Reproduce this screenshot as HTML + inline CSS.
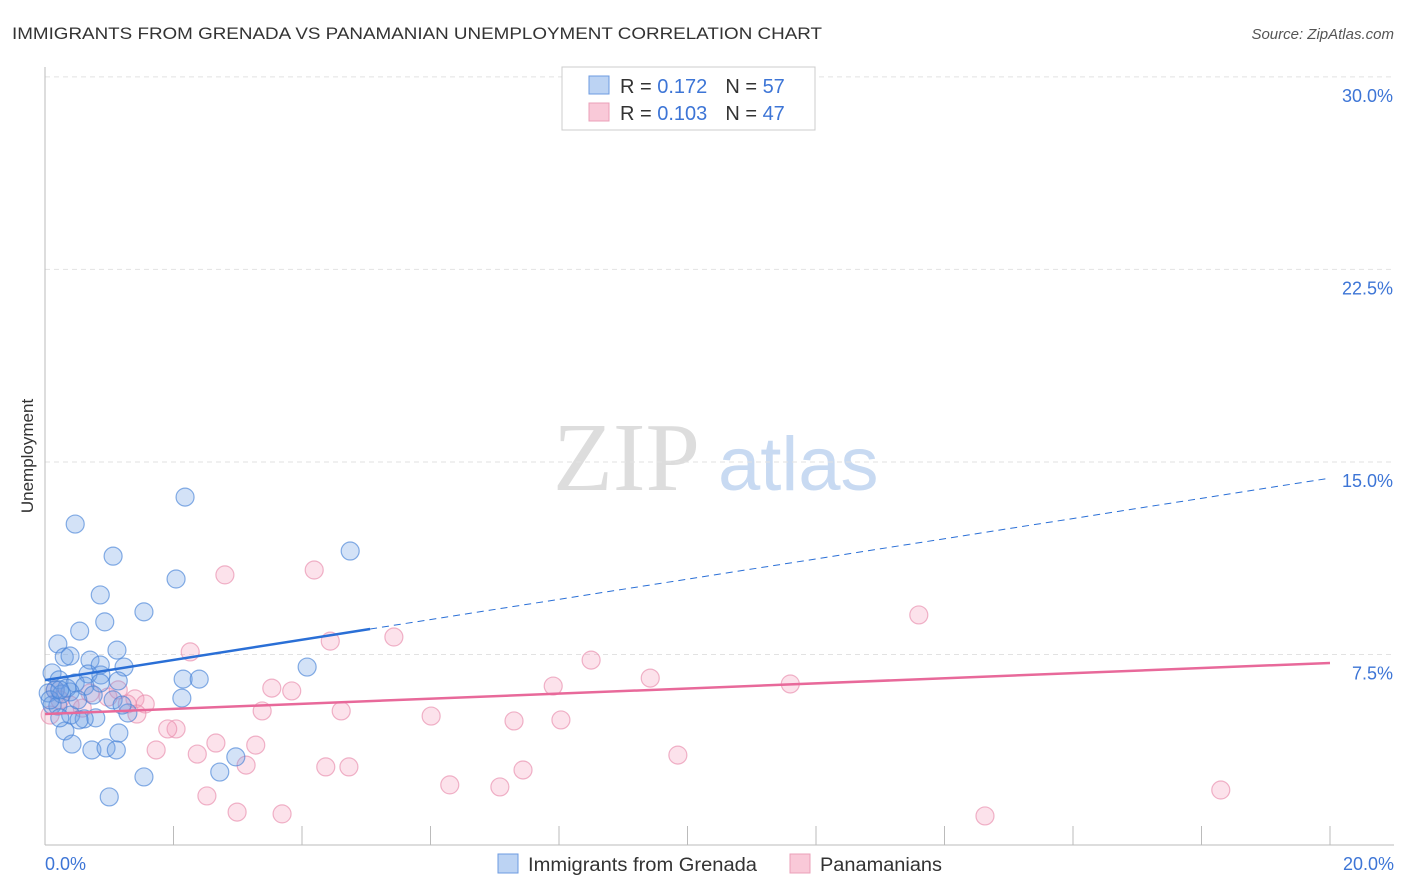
<!DOCTYPE html>
<html><head><meta charset="utf-8"><style>
body{margin:0;background:#fff;font-family:"Liberation Sans",sans-serif;}
svg{display:block}
</style></head><body>
<svg id="c" width="1406" height="892" xmlns="http://www.w3.org/2000/svg">
<text x="12" y="39" font-size="17" fill="#333" textLength="810" lengthAdjust="spacingAndGlyphs">IMMIGRANTS FROM GRENADA VS PANAMANIAN UNEMPLOYMENT CORRELATION CHART</text>
<text x="1394" y="39" font-size="15" fill="#555" font-style="italic" text-anchor="end">Source: ZipAtlas.com</text>
<text x="33" y="456" font-size="17" fill="#333" text-anchor="middle" transform="rotate(-90 33 456)">Unemployment</text>
<g>
<text x="553" y="490" font-size="98" font-family="Liberation Serif,serif" fill="#ddd">ZIP</text>
<text x="718" y="490" font-size="76" fill="#c8daf2">atlas</text>
</g>
<g id="grid"></g><g id="axes"></g><g id="pts"></g><g id="trend"></g>
<g>
<rect x="562" y="67" width="253" height="63" fill="#fff" stroke="#ccc"/>
<rect x="589" y="76" width="20" height="18" fill="#bcd3f3" stroke="#6d9be0"/>
<rect x="589" y="103" width="20" height="18" fill="#f9c9d8" stroke="#eba0b9"/>
<text x="620" y="93" font-size="20" fill="#333">R = <tspan fill="#3d75d6">0.172</tspan><tspan dx="18">N = </tspan><tspan fill="#3d75d6">57</tspan></text>
<text x="620" y="120" font-size="20" fill="#333">R = <tspan fill="#3d75d6">0.103</tspan><tspan dx="18">N = </tspan><tspan fill="#3d75d6">47</tspan></text>
</g>
<g>
<rect x="498" y="854" width="20" height="19" fill="#bcd3f3" stroke="#6d9be0"/>
<text x="528" y="871" font-size="19" fill="#333" textLength="229" lengthAdjust="spacingAndGlyphs">Immigrants from Grenada</text>
<rect x="790" y="854" width="20" height="19" fill="#f9c9d8" stroke="#eba0b9"/>
<text x="820" y="871" font-size="19" fill="#333" textLength="122" lengthAdjust="spacingAndGlyphs">Panamanians</text>
</g>
</svg>
<script>
const blueX=[2.18,0.47,1.06,4.75,2.04,0.86,1.54,0.93,0.54,0.20,1.12,0.30,0.39,0.70,1.23,4.08,0.11,0.67,0.87,0.22,0.47,1.14,2.15,2.40,0.86,0.62,0.16,0.05,0.39,2.13,1.06,0.11,0.20,1.29,0.40,0.79,0.61,0.53,1.15,0.31,0.42,0.73,0.95,1.11,2.97,1.54,2.72,1.00,0.26,0.34,0.08,0.75,1.20,0.23,0.86,0.23,0.51];
const blueY=[13.63,12.58,11.33,11.53,10.44,9.82,9.16,8.77,8.41,7.91,7.67,7.40,7.44,7.28,7.01,7.01,6.78,6.74,6.70,6.51,6.39,6.47,6.54,6.54,6.39,6.27,6.12,6.00,6.04,5.80,5.73,5.53,5.49,5.22,5.14,5.03,4.99,4.95,4.44,4.52,4.01,3.78,3.86,3.78,3.51,2.73,2.92,1.95,5.96,6.19,5.73,5.92,5.53,5.03,7.09,6.12,5.73];
const pinkX=[2.80,4.19,13.60,4.44,5.43,2.26,8.50,9.42,3.53,3.84,7.91,11.60,1.40,1.56,1.28,0.98,3.38,4.61,6.01,7.30,8.03,1.43,2.04,1.91,2.66,3.28,1.73,2.37,3.13,4.37,4.73,9.85,7.44,6.30,7.08,2.52,18.30,2.99,3.69,14.63,0.08,0.23,0.39,0.70,0.16,1.14,0.58];
const pinkY=[10.60,10.79,9.04,8.02,8.18,7.60,7.28,6.58,6.19,6.08,6.27,6.35,5.77,5.57,5.57,5.84,5.30,5.30,5.10,4.91,4.95,5.18,4.60,4.60,4.05,3.97,3.78,3.62,3.19,3.12,3.12,3.58,3.00,2.42,2.34,1.99,2.22,1.36,1.29,1.21,5.14,5.73,5.53,6.00,6.12,6.12,5.41];
const yTicks=[7.5,15,22.5,30];
const yTickLabels=["7.5%","15.0%","22.5%","30.0%"];
const xTicks=[0,2,4,6,8,10,12,14,16,18,20];
const blueTrend=[6.5,14.37]; const blueSolidEnd=5.06;
const pinkTrend=[5.18,7.17];

const NS="http://www.w3.org/2000/svg";
const X=v=>45+v*64.25, Y=v=>847-v*25.67;
function mk(p,t,a){const e=document.createElementNS(NS,t);for(const k in a)e.setAttribute(k,a[k]);document.getElementById(p).appendChild(e);return e;}
yTicks.forEach((t,i)=>{
 let l=mk('grid','line',{x1:45,x2:1394,y1:Y(t),y2:Y(t),stroke:'#e2e2e2','stroke-dasharray':'5,4'});
 
 
 let tx=mk('grid','text',{x:1393,y:Y(t)+25,'font-size':18,fill:'#3d75d6','text-anchor':'end'});
 tx.textContent=yTickLabels[i];
 
 
});
let ax=mk('axes','line',{x1:45,x2:1394,y1:845,y2:845,stroke:'#bbb'});


let ay=mk('axes','line',{x1:45,x2:45,y1:67,y2:845,stroke:'#bbb'});


xTicks.forEach(t=>{let l=mk('axes','line',{x1:X(t),x2:X(t),y1:826,y2:845,stroke:'#bbb'});
 
 });
let x0=mk('axes','text',{x:45,y:870,'font-size':18,fill:'#3d75d6'});x0.textContent='0.0%';


let x1=mk('axes','text',{x:1394,y:870,'font-size':18,fill:'#3d75d6','text-anchor':'end'});x1.textContent='20.0%';


pinkX.forEach((v,i)=>{let c=mk('pts','circle',{cx:X(v),cy:Y(pinkY[i]),r:9,fill:'rgba(244,160,188,0.3)',stroke:'rgba(232,140,172,0.65)','stroke-width':1.2});
 
 });
blueX.forEach((v,i)=>{let c=mk('pts','circle',{cx:X(v),cy:Y(blueY[i]),r:9,fill:'rgba(110,160,230,0.3)',stroke:'rgba(70,130,215,0.65)','stroke-width':1.2});
 
 });
const bAt=x=>blueTrend[0]+(blueTrend[1]-blueTrend[0])*x/20;
let b1=mk('trend','line',{x1:X(0),y1:Y(bAt(0)),x2:X(blueSolidEnd),y2:Y(bAt(blueSolidEnd)),stroke:'#2a6fd6','stroke-width':2.5});


let b2=mk('trend','line',{x1:X(blueSolidEnd),y1:Y(bAt(blueSolidEnd)),x2:X(20),y2:Y(bAt(20)),stroke:'#2a6fd6','stroke-width':1,'stroke-dasharray':'7,5'});


let p1=mk('trend','line',{x1:X(0),y1:Y(pinkTrend[0]),x2:X(20),y2:Y(pinkTrend[1]),stroke:'#e8699a','stroke-width':2.5});


</script>
</body></html>
